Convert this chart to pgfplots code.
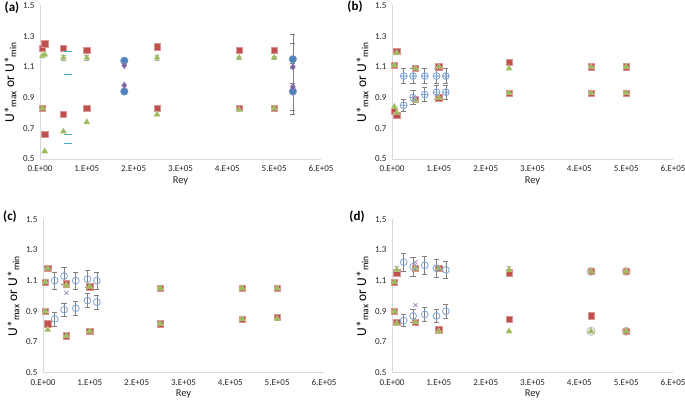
\documentclass[border=0pt]{standalone}
\usepackage{pgfplots}
\pgfplotsset{compat=1.18}
\usepackage{fontspec}
\setmainfont{Carlito}
\definecolor{redc}{HTML}{C0504D}
\definecolor{redl}{HTML}{D99694}
\definecolor{greenc}{HTML}{9BBB59}
\definecolor{cyanc}{HTML}{4BACC6}
\definecolor{purplec}{HTML}{8064A2}
\definecolor{bluec}{HTML}{4F81BD}
\definecolor{openblue}{HTML}{7BA3D6}
\definecolor{errgray}{HTML}{7F7F7F}
\definecolor{axgray}{HTML}{D9D9D9}
\pgfplotsset{
  panel/.style={
    scale only axis, width=281pt, height=153.5pt,
    xmin=0, xmax=600000, ymin=0.5, ymax=1.5,
    axis x line*=bottom, axis y line*=left,
    axis line style={axgray, line width=0.8pt, -},
    major tick length=0pt,
    xtick={0,100000,200000,300000,400000,500000,600000},
    xticklabels={0.E+00,1.E+05,2.E+05,3.E+05,4.E+05,5.E+05,6.E+05},
    scaled x ticks=false,
    ytick={0.5,0.7,0.9,1.1,1.3,1.5},
    yticklabels={0.5,0.7,0.9,1.1,1.3,1.5},
    tick label style={font=\fontsize{9}{10}\selectfont, text=black!85},
    xticklabel style={yshift=-3pt},
    yticklabel style={xshift=-2pt},
    xlabel={Rey},
    xlabel style={font=\fontsize{10.5}{12}\selectfont, text=black!85, yshift=2pt},
    ylabel={U*\textsubscript{max} or U*\textsubscript{min}},
    every axis y label/.style={at={(axis description cs:-0.105,0.5)}, rotate=90, anchor=center,
      font=\fontsize{13.5}{15}\selectfont},
    clip=false,
  },
  redsq/.style={only marks, mark=square*, mark size=3.2pt, mark options={fill=redc, draw=redl, line width=0.5pt}},
  greentri/.style={only marks, mark=triangle*, mark size=3.6pt, mark options={fill=greenc, draw=greenc!70!white, line width=0.4pt}},
  errs/.style={error bars/y dir=both, error bars/y explicit,
    error bars/error bar style={errgray, line width=0.7pt},
    error bars/error mark options={rotate=90, errgray, mark size=2.6pt, line width=0.7pt}},
  openc/.style={only marks, mark=o, mark size=3.4pt, mark options={draw=openblue, line width=0.8pt}, errs},
  smallerr/.style={error bars/y dir=both, error bars/y explicit,
    error bars/error bar style={errgray!70, line width=0.6pt},
    error bars/error mark options={rotate=90, errgray!70, mark size=2.4pt, line width=0.6pt}},
}
\begin{document}
\begin{tikzpicture}
\path[use as bounding box] (0pt,0pt) rectangle (685pt,406pt);

% ---------------- (a)
\begin{axis}[panel, at={(40pt,247pt)}, anchor=south west]
\addplot[redsq] table {
x y
5000 1.22
10000 1.25
50000 1.22
100000 1.21
250000 1.23
425000 1.21
500000 1.21
5000 0.83
10000 0.66
50000 0.79
100000 0.83
250000 0.83
425000 0.83
500000 0.83
};
\addplot[greentri, smallerr] table[x=x, y=y, y error=e] {
x y e
5000 1.17 0
10000 1.18 0
50000 1.16 0.015
100000 1.16 0.015
250000 1.16 0.015
425000 1.16 0.01
500000 1.16 0.01
5000 0.83 0
10000 0.55 0
50000 0.68 0
100000 0.74 0
250000 0.79 0
425000 0.82 0
500000 0.83 0
};
\addplot[only marks, mark=-, mark size=3.8pt, mark options={draw=cyanc, line width=1.6pt}] table {
x y
60000 1.20
60000 1.05
60000 0.66
60000 0.60
};
\addplot[only marks, mark=*, mark size=3.8pt, mark options={fill=bluec, draw=bluec!80!white}, errs] table[x=x, y=y, y error=e] {
x y e
180000 1.14 0
180000 0.94 0
540000 1.15 0.16
540000 0.94 0.15
};
\addplot[only marks, mark=diamond*, mark size=3.4pt, mark options={fill=purplec, draw=purplec!80!white}, errs] table[x=x, y=y, y error=e] {
x y e
180000 1.11 0
180000 0.98 0
540000 1.10 0.155
540000 0.97 0.15
};
\end{axis}

% ---------------- (b)
\begin{axis}[panel, at={(392pt,247pt)}, anchor=south west]
\addplot[redsq] table {
x y
5000 1.11
10000 1.20
5000 0.81
10000 0.785
50000 1.09
50000 0.89
100000 1.10
100000 0.90
250000 1.13
250000 0.93
425000 1.10
425000 0.93
500000 1.10
500000 0.93
};
\addplot[greentri] table {
x y
5000 1.11
10000 1.19
5000 0.84
10000 0.80
50000 1.09
50000 0.88
100000 1.10
100000 0.90
250000 1.09
250000 0.93
425000 1.10
425000 0.93
500000 1.10
500000 0.93
};
\addplot[openc, mark=oplus] table[x=x, y=y, y error=e] {
x y e
25000 1.04 0.05
45000 1.04 0.05
70000 1.04 0.05
95000 1.04 0.05
115000 1.04 0.05
25000 0.85 0.04
45000 0.90 0.045
70000 0.92 0.045
95000 0.935 0.045
115000 0.935 0.045
};
\end{axis}

% ---------------- (c)
\begin{axis}[panel, at={(43pt,33.3pt)}, anchor=south west]
\addplot[redsq] table {
x y
5000 1.09
10000 1.18
5000 0.90
10000 0.82
50000 1.08
50000 0.74
100000 1.06
100000 0.77
250000 1.05
250000 0.82
425000 1.05
425000 0.85
500000 1.05
500000 0.86
};
\addplot[greentri] table {
x y
5000 1.09
10000 1.18
5000 0.90
10000 0.78
50000 1.07
50000 0.74
100000 1.06
100000 0.77
250000 1.05
250000 0.82
425000 1.05
425000 0.85
500000 1.05
500000 0.85
};
\addplot[only marks, mark=x, mark size=2.8pt, mark options={draw=purplec!80!white, line width=0.7pt}] table {
x y
50000 1.02
};
\addplot[openc] table[x=x, y=y, y error=e] {
x y e
25000 1.10 0.055
45000 1.13 0.055
70000 1.10 0.055
95000 1.11 0.055
115000 1.10 0.055
25000 0.85 0.045
45000 0.91 0.045
70000 0.92 0.045
95000 0.97 0.045
115000 0.96 0.045
};
\end{axis}

% ---------------- (d)
\begin{axis}[panel, at={(392pt,33.3pt)}, anchor=south west]
\addplot[only marks, mark=o, mark size=4pt, mark options={draw=black!25, line width=1pt}] table {
x y
425000 1.16
425000 0.77
500000 1.16
500000 0.77
};
\addplot[redsq] table {
x y
5000 1.09
10000 1.15
5000 0.90
10000 0.83
50000 1.18
50000 0.83
100000 1.18
100000 0.78
250000 1.15
250000 0.85
425000 1.16
425000 0.87
500000 1.16
500000 0.77
};
\addplot[greentri, smallerr] table[x=x, y=y, y error=e] {
x y e
5000 1.09 0
10000 1.17 0.02
5000 0.90 0
10000 0.82 0
50000 1.18 0
50000 0.83 0
100000 1.18 0
100000 0.77 0
250000 1.17 0.02
250000 0.77 0
425000 1.16 0
425000 0.77 0
500000 1.16 0
500000 0.77 0
};
\addplot[only marks, mark=x, mark size=2.8pt, mark options={draw=purplec!80!white, line width=0.7pt}] table {
x y
50000 1.22
50000 0.94
};
\addplot[openc] table[x=x, y=y, y error=e] {
x y e
25000 1.22 0.06
45000 1.19 0.06
70000 1.20 0.06
95000 1.18 0.06
115000 1.17 0.055
25000 0.84 0.04
45000 0.87 0.045
70000 0.88 0.045
95000 0.87 0.045
115000 0.90 0.045
};
\end{axis}

\node[font=\fontsize{13}{15}\selectfont\bfseries] at (12pt,398pt) {(a)};
\node[font=\fontsize{13}{15}\selectfont\bfseries] at (355pt,399pt) {(b)};
\node[font=\fontsize{13}{15}\selectfont\bfseries] at (10pt,189pt) {(c)};
\node[font=\fontsize{13}{15}\selectfont\bfseries] at (357pt,189pt) {(d)};
\end{tikzpicture}
\end{document}
